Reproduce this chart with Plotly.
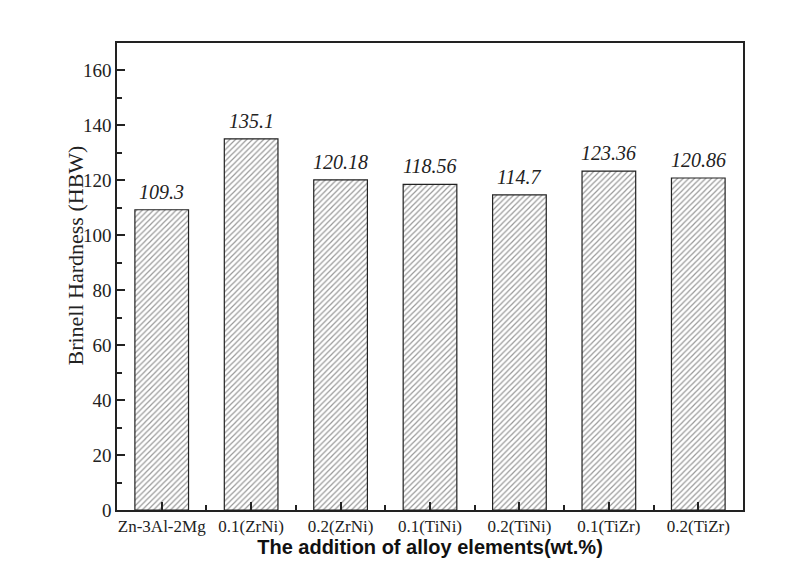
import plotly.graph_objects as go

categories = ["Zn-3Al-2Mg", "0.1(ZrNi)", "0.2(ZrNi)", "0.1(TiNi)", "0.2(TiNi)", "0.1(TiZr)", "0.2(TiZr)"]
values = [109.3, 135.1, 120.18, 118.56, 114.7, 123.36, 120.86]
labels = ["109.3", "135.1", "120.18", "118.56", "114.7", "123.36", "120.86"]
y_ticks = [0, 20, 40, 60, 80, 100, 120, 140, 160]

serif = "Liberation Serif, Times New Roman, serif"

fig = go.Figure()
fig.add_trace(go.Bar(
    x=list(range(len(categories))), y=values,
    width=0.6,
    marker=dict(color="white", line=dict(color="#222", width=1.2),
                pattern=dict(shape="/", size=4, solidity=0.3, fgcolor="#333", bgcolor="white")),
    showlegend=False, hoverinfo="x+y",
))

annotations = [dict(text="Brinell Hardness (HBW)", textangle=-90, xref="paper", yref="paper",
                    x=-0.067, y=0.545, xanchor="center", yanchor="middle", showarrow=False,
                    font=dict(family=serif, size=22, color="#222"))]
for i, (v, lab) in enumerate(zip(values, labels)):
    annotations.append(dict(text=lab, x=i, y=v, xref="x", yref="y", xanchor="center", yanchor="bottom",
                            yshift=5, showarrow=False,
                            font=dict(family=serif, size=20, color="#222", style="italic")))

fig.update_layout(
    width=796, height=575,
    margin=dict(l=109, r=61, t=35, b=73),
    plot_bgcolor="white", paper_bgcolor="white",
    font=dict(family=serif, color="#222"),
    annotations=annotations,
)
fig.update_xaxes(
    range=[-0.5, 6.5], tickmode="array", tickvals=list(range(len(categories))), ticktext=categories,
    ticks="inside", ticklen=8, tickwidth=1.5, tickcolor="#222",
    minor=dict(tickmode="array", tickvals=[i + 0.5 for i in range(-1, 7)], ticks="inside", ticklen=5, tickwidth=1.5, tickcolor="#222"),
    showline=True, linecolor="#222", linewidth=1.5, mirror=True, showgrid=False,
    tickfont=dict(family=serif, size=17), automargin=False, layer="above traces",
    title=dict(text="<b>The addition of alloy elements(wt.%)</b>", standoff=4,
               font=dict(family="Liberation Sans, Arial, sans-serif", size=20, color="#111")),
)
fig.update_yaxes(
    range=[0, 170], tickmode="array", tickvals=y_ticks,
    ticks="inside", ticklen=8, tickwidth=1.5, tickcolor="#222",
    minor=dict(tickmode="array", tickvals=[10, 30, 50, 70, 90, 110, 130, 150, 170], ticks="inside", ticklen=5, tickwidth=1.5, tickcolor="#222"),
    showline=True, linecolor="#222", linewidth=1.5, mirror=True, showgrid=False, zeroline=False,
    tickfont=dict(family=serif, size=19), automargin=False, layer="above traces",
)

fig.write_html("out.html")
